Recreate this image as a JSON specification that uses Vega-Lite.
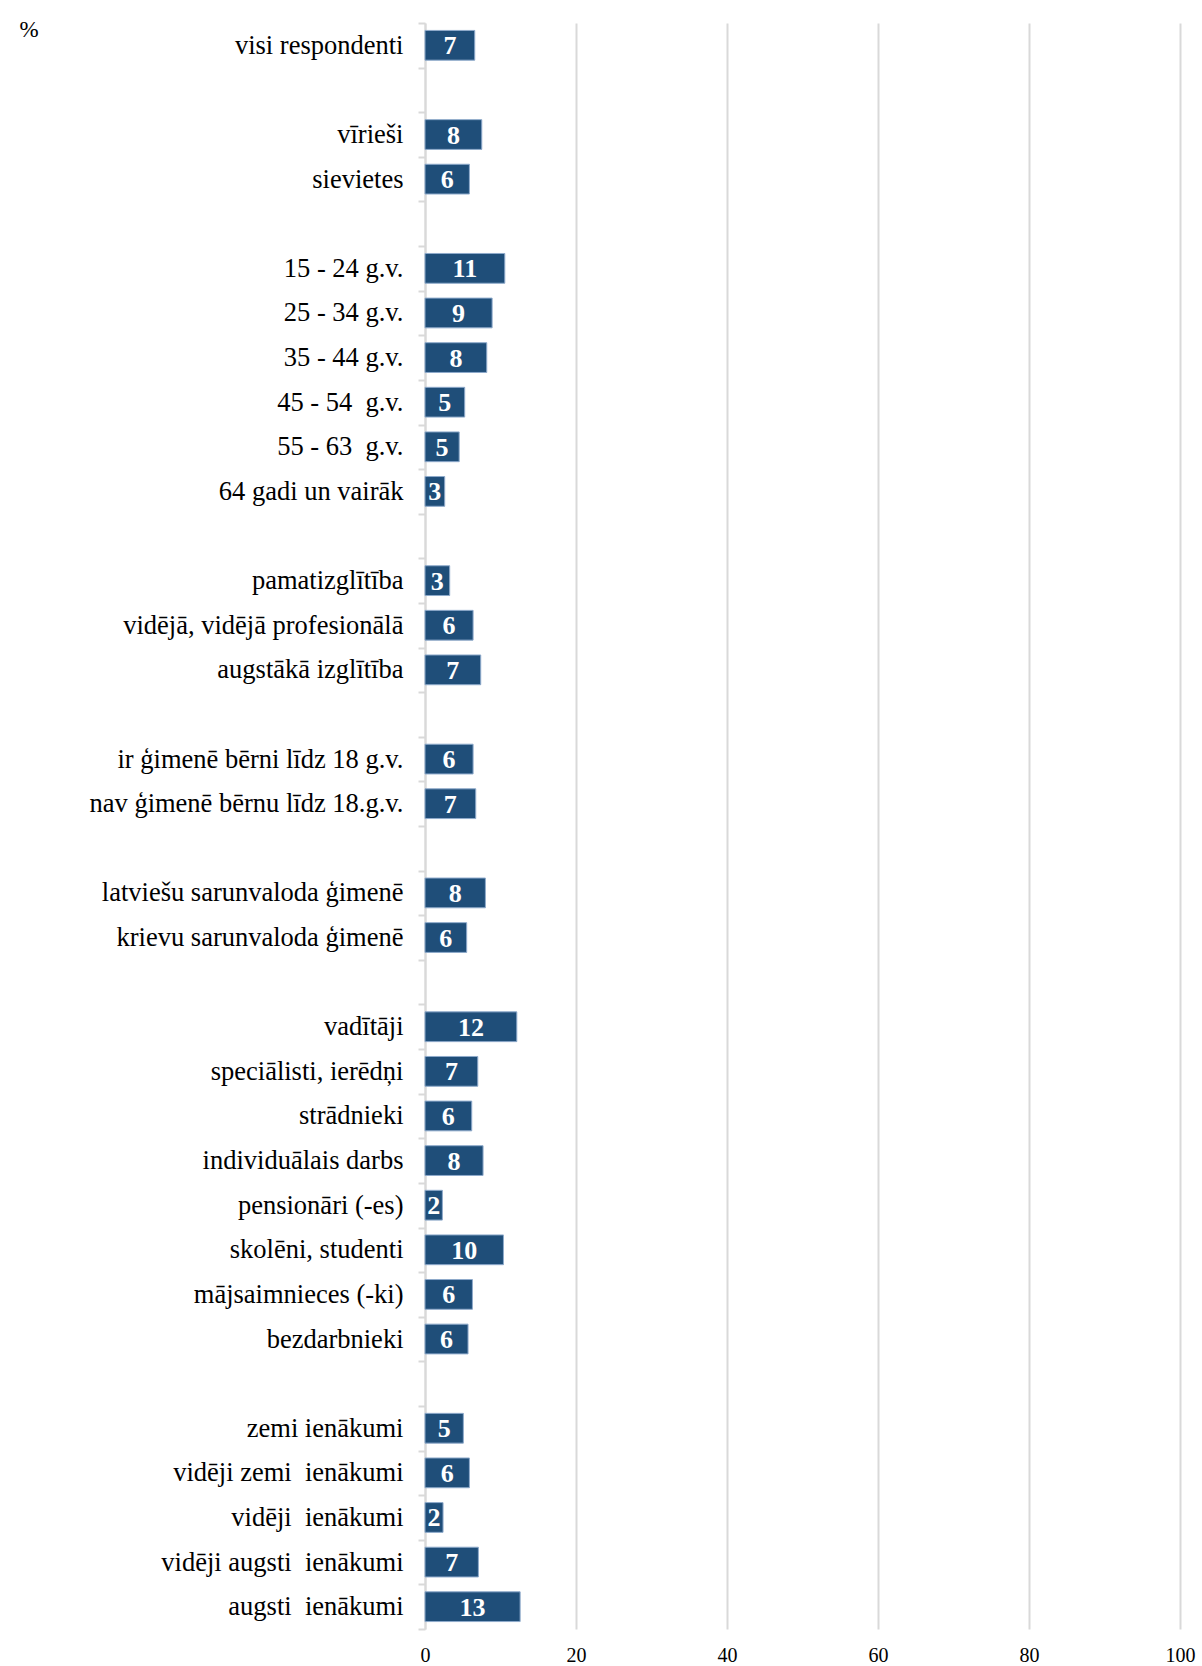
{
  "$schema": "https://vega.github.io/schema/vega-lite/v6.json",
  "autosize": {"type": "none"},
  "padding": {"left": 425, "top": 23, "right": 22, "bottom": 37},
  "width": 755,
  "height": 1606,
  "background": "white",
  "view": {"stroke": null},
  "title": {
    "text": "%",
    "anchor": "start",
    "frame": "group",
    "align": "center",
    "dx": -396,
    "offset": -32,
    "font": "Liberation Serif",
    "fontSize": 23,
    "fontWeight": "normal",
    "color": "#000000"
  },
  "data": {
    "values": [
      {"cat": "visi respondenti", "value": 6.59},
      {"cat": "vīrieši", "value": 7.52},
      {"cat": "sievietes", "value": 5.88},
      {"cat": "15 - 24 g.v.", "value": 10.57},
      {"cat": "25 - 34 g.v.", "value": 8.89},
      {"cat": "35 - 44 g.v.", "value": 8.18},
      {"cat": "45 - 54\u00a0 g.v.", "value": 5.26},
      {"cat": "55 - 63\u00a0 g.v.", "value": 4.53},
      {"cat": "64 gadi un vairāk", "value": 2.61},
      {"cat": "pamatizglītība", "value": 3.27},
      {"cat": "vidējā, vidējā profesionālā", "value": 6.37},
      {"cat": "augstākā izglītība", "value": 7.38},
      {"cat": "ir ģimenē bērni līdz 18 g.v.", "value": 6.37},
      {"cat": "nav ģimenē bērnu līdz 18.g.v.", "value": 6.72},
      {"cat": "latviešu sarunvaloda ģimenē", "value": 8.0},
      {"cat": "krievu sarunvaloda ģimenē", "value": 5.52},
      {"cat": "vadītāji", "value": 12.16},
      {"cat": "speciālisti, ierēdņi", "value": 6.99},
      {"cat": "strādnieki", "value": 6.19},
      {"cat": "individuālais darbs", "value": 7.69},
      {"cat": "pensionāri (-es)", "value": 2.3},
      {"cat": "skolēni, studenti", "value": 10.39},
      {"cat": "mājsaimnieces (-ki)", "value": 6.28},
      {"cat": "bezdarbnieki", "value": 5.7},
      {"cat": "zemi ienākumi", "value": 5.08},
      {"cat": "vidēji zemi\u00a0 ienākumi", "value": 5.88},
      {"cat": "vidēji\u00a0 ienākumi", "value": 2.39},
      {"cat": "vidēji augsti\u00a0 ienākumi", "value": 7.07},
      {"cat": "augsti\u00a0 ienākumi", "value": 12.6}
    ]
  },
  "encoding": {
    "y": {
      "field": "cat",
      "type": "nominal",
      "scale": {
        "domain": [
          "visi respondenti", "gap1",
          "vīrieši", "sievietes", "gap2",
          "15 - 24 g.v.", "25 - 34 g.v.", "35 - 44 g.v.", "45 - 54\u00a0 g.v.", "55 - 63\u00a0 g.v.", "64 gadi un vairāk", "gap3",
          "pamatizglītība", "vidējā, vidējā profesionālā", "augstākā izglītība", "gap4",
          "ir ģimenē bērni līdz 18 g.v.", "nav ģimenē bērnu līdz 18.g.v.", "gap5",
          "latviešu sarunvaloda ģimenē", "krievu sarunvaloda ģimenē", "gap6",
          "vadītāji", "speciālisti, ierēdņi", "strādnieki", "individuālais darbs", "pensionāri (-es)", "skolēni, studenti", "mājsaimnieces (-ki)", "bezdarbnieki", "gap7",
          "zemi ienākumi", "vidēji zemi\u00a0 ienākumi", "vidēji\u00a0 ienākumi", "vidēji augsti\u00a0 ienākumi", "augsti\u00a0 ienākumi"
        ],
        "paddingInner": 0,
        "paddingOuter": 0
      },
      "axis": {
        "title": null,
        "labelExpr": "slice(datum.label,0,3)=='gap' ? '' : datum.label",
        "labelFont": "Liberation Serif",
        "labelFontSize": 26.5,
        "labelColor": "#000000",
        "labelPadding": 15,
        "labelLimit": 500,
        "tickBand": "extent",
        "tickColor": "#d9d9d9",
        "tickSize": 7,
        "tickWidth": 2,
        "domainColor": "#d9d9d9",
        "domainWidth": 2,
        "grid": false
      }
    }
  },
  "layer": [
    {
      "mark": {"type": "bar", "height": {"band": 0.667}, "color": "#1f4e79", "stroke": "#8eaacb", "strokeWidth": 1},
      "encoding": {
        "x": {
          "field": "value",
          "type": "quantitative",
          "scale": {"domain": [0, 100], "nice": false},
          "axis": {
            "title": null,
            "values": [0, 20, 40, 60, 80, 100],
            "labelFont": "Liberation Serif",
            "labelFontSize": 20,
            "labelColor": "#000000",
            "labelPadding": 16,
            "labelFlush": false,
            "ticks": false,
            "domain": false,
            "grid": true,
            "gridColor": "#d9d9d9",
            "gridWidth": 2
          }
        }
      }
    },
    {
      "mark": {"type": "text", "font": "Liberation Serif", "fontSize": 26, "fontWeight": "bold", "color": "white", "baseline": "middle", "align": "center", "dy": 1},
      "encoding": {
        "x": {"field": "value", "type": "quantitative", "scale": {"domain": [0, 200], "nice": false}, "axis": null},
        "text": {"field": "value", "type": "quantitative", "format": ".0f"}
      }
    }
  ],
  "resolve": {"scale": {"x": "independent"}}
}
